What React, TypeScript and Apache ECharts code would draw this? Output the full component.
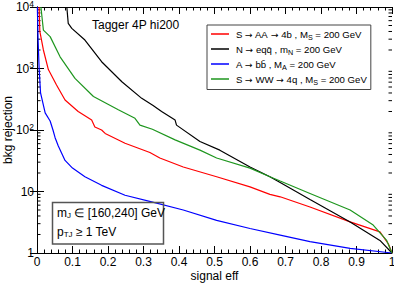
import React, { useEffect, useRef } from "react";
import * as echarts from "echarts";

const seriesNames = [
  "S → AA → 4b , MS = 200 GeV",
  "N → eqq̄ , mN = 200 GeV",
  "A → bb̄ , MA = 200 GeV",
  "S → WW → 4q , MS = 200 GeV",
];
const legendRich = [
  "{t|S }{a|→}{t| AA }{a|→}{t| 4b , M}{sub|S}{t| = 200 GeV}",
  "{t|N }{a|→}{t| eqq\u0304 , m}{sub|N}{t| = 200 GeV}",
  "{t|A }{a|→}{t| bb\u0304 , M}{sub|A}{t| = 200 GeV}",
  "{t|S }{a|→}{t| WW }{a|→}{t| 4q , M}{sub|S}{t| = 200 GeV}",
];
const seriesColors = ["#ff0000", "#000000", "#0000ff", "#1e961e"];

// S -> AA -> 4b (red)
const redX = [0.006, 0.008, 0.018, 0.032, 0.055, 0.079, 0.116, 0.154, 0.163, 0.182, 0.192, 0.248, 0.318, 0.346, 0.412, 0.506, 0.6, 0.656, 0.685, 0.769, 0.882, 0.966, 0.99, 1.0];
const redY = [10000, 4000, 2000, 960, 540, 307, 200, 145, 112, 100, 88, 61, 43, 35, 25, 17.4, 11.9, 9.0, 8.2, 5.6, 3.2, 2.2, 1.4, 1];
// N -> eqq (black)
const blackX = [0.084, 0.088, 0.098, 0.135, 0.182, 0.239, 0.295, 0.327, 0.351, 0.389, 0.393, 0.459, 0.515, 0.6, 0.656, 0.685, 0.769, 0.882, 0.966, 1.0];
const blackY = [10000, 5400, 4500, 2900, 1290, 610, 327, 250, 200, 145, 120, 65, 47, 25, 17.4, 14.0, 7.4, 3.2, 1.6, 1];
// A -> bb (blue)
const blueX = [0.001, 0.003, 0.006, 0.01, 0.023, 0.037, 0.045, 0.051, 0.06, 0.079, 0.1, 0.135, 0.182, 0.248, 0.323, 0.412, 0.506, 0.6, 0.685, 0.769, 0.882, 1.0];
const blueY = [10000, 3000, 1000, 400, 190, 140, 100, 75, 55, 32, 24, 17.4, 12.6, 8.7, 6.8, 5.0, 3.4, 2.5, 1.95, 1.53, 1.19, 1];
// S -> WW -> 4q (green)
const greenX = [0.011, 0.018, 0.037, 0.065, 0.107, 0.159, 0.229, 0.276, 0.29, 0.325, 0.389, 0.459, 0.506, 0.6, 0.656, 0.685, 0.769, 0.882, 0.947, 0.985, 1.0];
const greenY = [10000, 4200, 3300, 1550, 690, 350, 213, 155, 120, 103, 69, 47, 35, 24, 17.4, 14.8, 9.3, 5.0, 2.85, 1.6, 1];

const minorLogTicks = [2, 3, 4, 5, 6, 7, 8, 9, 20, 30, 40, 50, 60, 70, 80, 90, 200, 300, 400, 500, 600, 700, 800, 900, 2000, 3000, 4000, 5000, 6000, 7000, 8000, 9000];

const titleText = "Tagger 4P hi200";
const infoLine1 = "{t|m}{sub|J}{t| ∈ [160,240] GeV}";
const infoLine2 = "{t|p}{sub|TJ}{t| ≥ 1 TeV}";
const xName = "signal eff";
const yName = "bkg rejection";

const FONT = "Liberation Sans, Arial, Helvetica, sans-serif";
const SYMFONT = "DejaVu Sans, sans-serif";

function pairs(xs: number[], ys: number[]) {
  return xs.map((x, i) => [x, ys[i]]);
}

export default function App() {
  const ref = useRef<HTMLDivElement>(null);
  useEffect(() => {
    if (!ref.current) return;
    const chart = echarts.init(ref.current, undefined, { renderer: "svg" });
    const datasets = [pairs(redX, redY), pairs(blackX, blackY), pairs(blueX, blueY), pairs(greenX, greenY)];
    const xFmt = (v: number) => {
      const s = parseFloat(v.toFixed(2));
      return String(s);
    };
    const yFmt = (v: number) => {
      const e = Math.round(Math.log10(v));
      if (e === 0) return "{n|1}";
      if (e === 1) return "{n|10}";
      return "{n|10}{sup|" + e + "}";
    };
    const axisCommon = {
      axisLine: { show: true, lineStyle: { color: "#000", width: 1 } },
      splitLine: { show: false },
    };
    const option: any = {
      animation: false,
      backgroundColor: "#fff",
      grid: { left: 37, right: 2, top: 7, bottom: 31, containLabel: false, outerBoundsMode: "none" },
      xAxis: [
        {
          type: "value",
          min: 0,
          max: 1,
          interval: 0.1,
          position: "bottom",
          ...axisCommon,
          axisTick: { show: true, inside: true, length: 7, lineStyle: { color: "#000" } },
          minorTick: { show: true, splitNumber: 5, length: 3.5, lineStyle: { color: "#000" } },
          axisLabel: { show: true, margin: 3, fontSize: 12, fontFamily: FONT, color: "#000", formatter: xFmt, showMaxLabel: true, showMinLabel: true, hideOverlap: false },
          name: xName,
          nameLocation: "middle",
          nameGap: 17,
          nameMoveOverlap: false,
          nameTextStyle: { fontSize: 12, fontFamily: FONT, color: "#000", lineHeight: 12 },
        },
        {
          type: "value",
          min: 0,
          max: 1,
          interval: 0.1,
          position: "top",
          ...axisCommon,
          axisTick: { show: true, inside: true, length: 7, lineStyle: { color: "#000" } },
          minorTick: { show: true, splitNumber: 5, length: 3.5, lineStyle: { color: "#000" } },
          axisLabel: { show: false },
        },
      ],
      yAxis: [
        {
          type: "log",
          logBase: 10,
          min: 1,
          max: 10000,
          splitNumber: 4,
          position: "left",
          ...axisCommon,
          axisTick: { show: true, inside: true, length: 7, lineStyle: { color: "#000" } },
          axisLabel: {
            show: true,
            margin: 3,
            formatter: yFmt,
            fontFamily: FONT,
            color: "#000",
            rich: {
              n: { fontSize: 12, fontFamily: FONT, color: "#000" },
              sup: { fontSize: 8.5, fontFamily: FONT, color: "#000", verticalAlign: "top", padding: [0, 0, 7, 0] },
            },
          },
          name: yName,
          nameLocation: "middle",
          nameGap: 23,
          nameMoveOverlap: false,
          nameRotate: 90,
          nameTextStyle: { fontSize: 12, fontFamily: FONT, color: "#000", lineHeight: 12 },
        },
        {
          type: "log",
          logBase: 10,
          min: 1,
          max: 10000,
          splitNumber: 4,
          position: "right",
          ...axisCommon,
          axisTick: { show: true, inside: true, length: 7, lineStyle: { color: "#000" } },
          axisLabel: { show: false },
        },
      ],
      legend: {
        data: seriesNames,
        orient: "vertical",
        left: 207,
        top: 25,
        padding: [4, 4, 4, 4],
        itemGap: 3.5,
        itemWidth: 18,
        itemHeight: 1.5,
        icon: "rect",
        borderColor: "#444",
        borderWidth: 1,
        backgroundColor: "#fff",
        formatter: (name: string) => legendRich[seriesNames.indexOf(name)],
        textStyle: {
          fontFamily: FONT,
          color: "#000",
          padding: [0, 0, 0, 2],
          rich: {
            t: { fontSize: 9.6, fontFamily: FONT, color: "#000", lineHeight: 13 },
            a: { fontSize: 9.2, fontFamily: SYMFONT, color: "#000", lineHeight: 13 },
            sub: { fontSize: 7.2, fontFamily: FONT, color: "#000", verticalAlign: "bottom", padding: [6, 0, 0, 0] },
          },
        },
      },
      graphic: [
        {
          type: "text",
          left: 92,
          top: 19,
          style: { text: titleText, fontSize: 12, fontFamily: FONT, fill: "#000" },
        },
        {
          type: "rect",
          shape: { x: 52.5, y: 202.5, width: 111, height: 41.5 },
          style: { fill: "none", stroke: "#555", lineWidth: 1.5 },
          z: 10,
        },
        {
          type: "text",
          x: 57,
          y: 206,
          style: {
            text: infoLine1,
            fontFamily: FONT,
            fill: "#000",
            rich: {
              t: { fontSize: 12, fontFamily: FONT, fill: "#000" },
              sub: { fontSize: 8, fontFamily: FONT, fill: "#000", verticalAlign: "bottom", padding: [5, 0, 0, 0] },
            },
          },
          z: 10,
        },
        {
          type: "text",
          x: 57,
          y: 225,
          style: {
            text: infoLine2,
            fontFamily: FONT,
            fill: "#000",
            rich: {
              t: { fontSize: 12, fontFamily: FONT, fill: "#000" },
              sub: { fontSize: 8, fontFamily: FONT, fill: "#000", verticalAlign: "bottom", padding: [5, 0, 0, 0] },
            },
          },
          z: 10,
        },
      ],
      series: [
        ...seriesNames.map((name, i) => ({
          name,
          type: "line",
          xAxisIndex: 0,
          yAxisIndex: 0,
          data: datasets[i],
          showSymbol: false,
          symbol: "none",
          smooth: false,
          clip: true,
          color: seriesColors[i],
          lineStyle: { color: seriesColors[i], width: 1.2 },
        })),
        {
          type: "custom",
          name: "minorTicks",
          xAxisIndex: 0,
          yAxisIndex: 0,
          silent: true,
          data: minorLogTicks.map((v) => [0, v]),
          renderItem: (params: any, api: any) => {
            const v = api.value(1);
            const pL = api.coord([0, v]);
            const pR = api.coord([1, v]);
            return {
              type: "group",
              children: [
                { type: "line", shape: { x1: pL[0], y1: pL[1], x2: pL[0] + 3.5, y2: pL[1] }, style: { stroke: "#000", lineWidth: 1 } },
                { type: "line", shape: { x1: pR[0] - 3.5, y1: pR[1], x2: pR[0], y2: pR[1] }, style: { stroke: "#000", lineWidth: 1 } },
              ],
            };
          },
        },
      ],
    };
    chart.setOption(option);
    return () => chart.dispose();
  }, []);
  return <div ref={ref} style={{ width: 394, height: 284, position: "absolute", left: 0, top: 0 }} />;
}
